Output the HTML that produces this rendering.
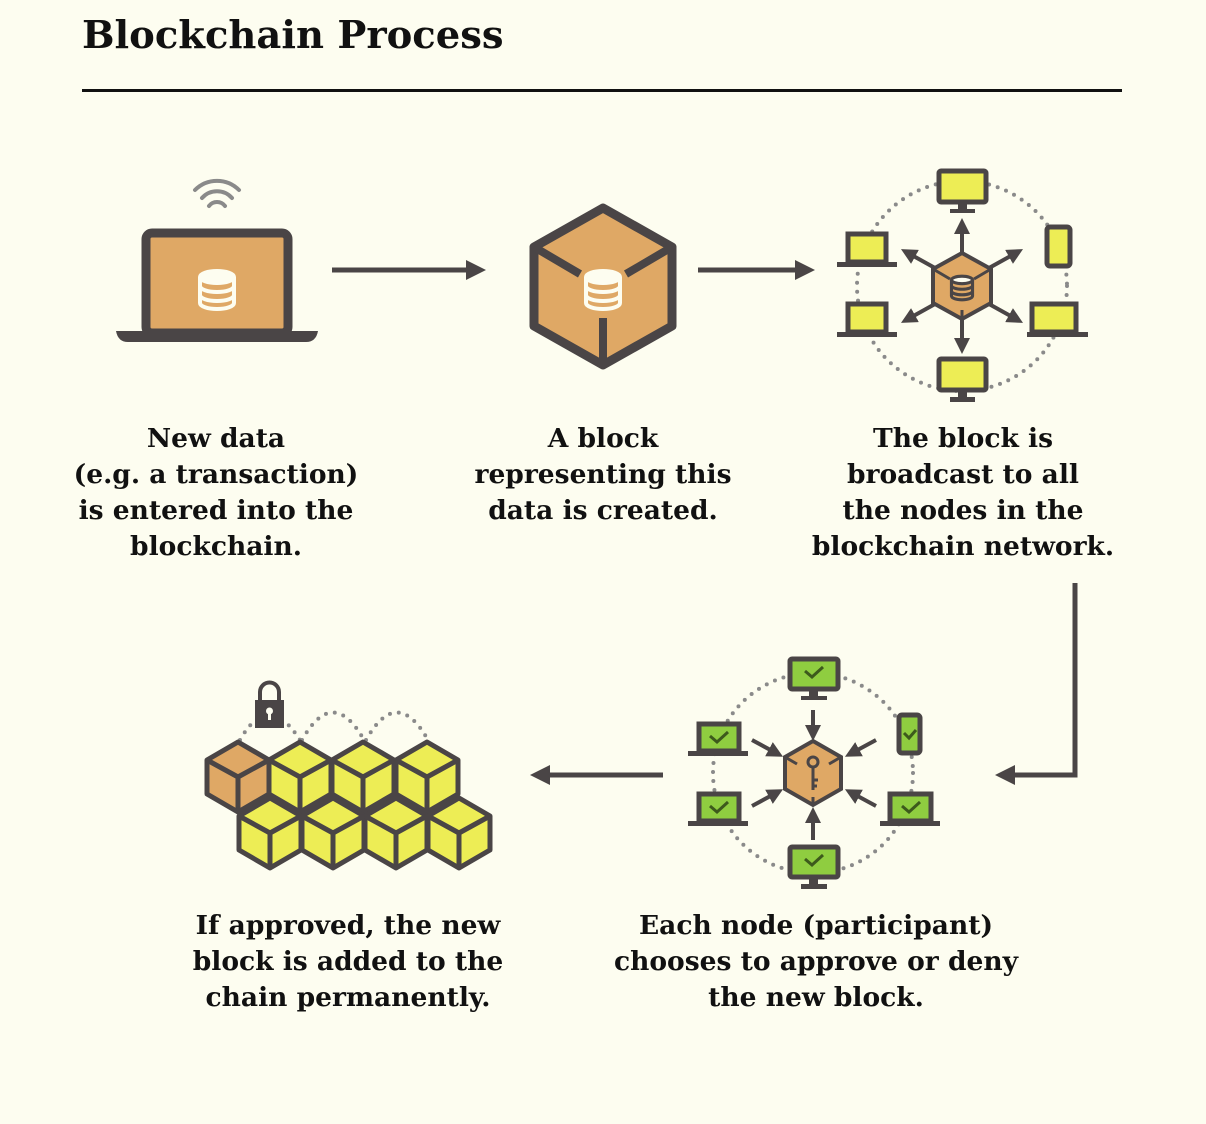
<!DOCTYPE html>
<html><head><meta charset="utf-8"><style>
html,body{margin:0;padding:0;background:#fdfdf0;}
body{width:1206px;height:1124px;position:relative;overflow:hidden;font-family:"DejaVu Serif","Liberation Serif",serif;color:#111;}
.t{position:absolute;font-weight:bold;font-size:26.5px;line-height:36px;text-align:center;white-space:nowrap;transform:translateX(-50%);}
</style></head><body>
<div style="position:absolute;left:82px;top:13px;font-size:38.5px;font-weight:bold;">Blockchain Process</div>
<div style="position:absolute;left:82px;top:89px;width:1040px;height:3px;background:#111;"></div>

<svg width="1206" height="1124" style="position:absolute;left:0;top:0" xmlns="http://www.w3.org/2000/svg">
<defs>
<marker id="ah" markerWidth="4" markerHeight="4" refX="2" refY="2" orient="auto" markerUnits="strokeWidth"><path d="M0,0 L4,2 L0,4 z" fill="#4a4546"/></marker>
<g id="db" fill="none" stroke="#fdfdf0" stroke-width="4">
<ellipse cx="0" cy="-13" rx="17" ry="6" fill="#fdfdf0"/>
<path d="M-17,-13 V13 A17,6 0 0 0 17,13 V-13"/>
<path d="M-17,-4 A17,6 0 0 0 17,-4 M-17,5 A17,6 0 0 0 17,5"/>
</g>
<g id="cube">
<path d="M0,0 L31,18 L31,52 L0,70 L-31,52 L-31,18 Z" fill="#eded55" stroke="#4a4546" stroke-width="5" stroke-linejoin="round"/>
<path d="M-31,18 L0,35 L31,18 M0,35 V70" fill="none" stroke="#4a4546" stroke-width="5" stroke-linejoin="round"/>
</g>
</defs>

<rect x="146" y="233" width="142" height="100" rx="6" fill="#dfa865" stroke="#4a4546" stroke-width="9"/>
<path d="M116,331 H318 Q316,342 306,342 H128 Q118,342 116,331 Z" fill="#4a4546"/>
<use href="#db" x="217" y="290"/>
<g fill="none" stroke="#8a8a8a" stroke-width="4" stroke-linecap="round">
<path d="M195,190 A31,31 0 0 1 239,190"/><path d="M202,198 A20,20 0 0 1 232,198"/><path d="M209,206 A10,10 0 0 1 225,206"/>
</g>

<line x1="332" y1="270" x2="476" y2="270" stroke="#4a4546" stroke-width="5" marker-end="url(#ah)"/>
<line x1="698" y1="270" x2="805" y2="270" stroke="#4a4546" stroke-width="5" marker-end="url(#ah)"/>

<path d="M603,208 L672,247 L672,326 L603,365 L534,326 L534,247 Z" fill="#dfa865" stroke="#4a4546" stroke-width="9" stroke-linejoin="round"/>
<path d="M534,247 L580,274 M672,247 L626,274 M603,318 V365" stroke="#4a4546" stroke-width="8" fill="none"/>
<use href="#db" x="603" y="290"/>

<circle cx="962" cy="286" r="105" fill="none" stroke="#8a8a8a" stroke-width="4" stroke-dasharray="0 9" stroke-linecap="round"/>
<g stroke="#4a4546" stroke-width="4" marker-end="url(#ah)">
<line x1="962" y1="252" x2="962" y2="226"/><line x1="962" y1="320" x2="962" y2="346"/>
<line x1="935" y1="268" x2="908" y2="253"/><line x1="989" y1="268" x2="1016" y2="253"/>
<line x1="935" y1="304" x2="908" y2="319"/><line x1="989" y1="304" x2="1016" y2="319"/>
</g>
<path d="M962,253 L991,269 L991,303 L962,319 L933,303 L933,269 Z" fill="#dfa865" stroke="#4a4546" stroke-width="4"/>
<path d="M933,269 L950,279 M991,269 L974,279 M962,310 V319" stroke="#4a4546" stroke-width="3"/>
<g transform="translate(962,288) scale(0.62)"><g fill="none" stroke="#4a4546" stroke-width="5"><ellipse cx="0" cy="-13" rx="17" ry="6" fill="#fdfdf0"/><path d="M-17,-13 V13 A17,6 0 0 0 17,13 V-13 M-17,-4 A17,6 0 0 0 17,-4 M-17,5 A17,6 0 0 0 17,5"/></g></g>
<g fill="#eded55" stroke="#4a4546" stroke-width="5">
<rect x="939" y="171" width="47" height="31" rx="2"/><rect x="939" y="359" width="47" height="31" rx="2"/>
<rect x="848" y="234" width="38" height="28"/><rect x="848" y="304" width="38" height="28"/>
<rect x="1032" y="304" width="44" height="28"/>
<rect x="1047" y="227" width="23" height="39" rx="3"/>
</g>
<g fill="#4a4546">
<rect x="958" y="202" width="9" height="8"/><rect x="950" y="209" width="25" height="4"/>
<rect x="958" y="390" width="9" height="8"/><rect x="950" y="397" width="25" height="5"/>
<rect x="837" y="262" width="60" height="5"/><rect x="837" y="332" width="60" height="5"/>
<rect x="1027" y="332" width="61" height="5"/>
</g>

<path d="M1075,583 V775 H1005" fill="none" stroke="#4a4546" stroke-width="5" marker-end="url(#ah)"/>
<line x1="663" y1="775" x2="540" y2="775" stroke="#4a4546" stroke-width="5" marker-end="url(#ah)"/>

<circle cx="813" cy="773" r="100" fill="none" stroke="#8a8a8a" stroke-width="4" stroke-dasharray="0 9" stroke-linecap="round"/>
<g stroke="#4a4546" stroke-width="4" marker-end="url(#ah)">
<line x1="813" y1="710" x2="813" y2="733"/><line x1="813" y1="840" x2="813" y2="815"/>
<line x1="752" y1="740" x2="776" y2="753"/><line x1="876" y1="740" x2="852" y2="753"/>
<line x1="752" y1="806" x2="776" y2="793"/><line x1="876" y1="806" x2="852" y2="793"/>
</g>
<path d="M813,741 L841,757 L841,789 L813,805 L785,789 L785,757 Z" fill="#dfa865" stroke="#4a4546" stroke-width="4"/>
<path d="M785,757 L797,764 M841,757 L829,764 M813,797 V805" stroke="#4a4546" stroke-width="3"/>
<circle cx="813" cy="762" r="5" fill="none" stroke="#4a4546" stroke-width="3"/>
<path d="M813,767 V790 M813,780 H818 M813,786 H817" stroke="#4a4546" stroke-width="3"/>
<g fill="#8fcd40" stroke="#4a4546" stroke-width="5">
<rect x="790" y="659" width="48" height="30" rx="2"/><rect x="790" y="847" width="48" height="30" rx="2"/>
<rect x="699" y="724" width="40" height="27"/><rect x="699" y="794" width="40" height="27"/>
<rect x="890" y="794" width="41" height="27"/>
<rect x="899" y="715" width="21" height="38" rx="3"/>
</g>
<g fill="#4a4546">
<rect x="809" y="689" width="9" height="8"/><rect x="801" y="696" width="26" height="4"/>
<rect x="809" y="877" width="9" height="8"/><rect x="801" y="884" width="26" height="5"/>
<rect x="688" y="751" width="60" height="5"/><rect x="688" y="821" width="60" height="5"/>
<rect x="880" y="821" width="60" height="5"/>
</g>
<g fill="none" stroke="#3d5a1c" stroke-width="3">
<path d="M805,671 l7,6 l11,-10"/><path d="M805,859 l7,6 l11,-10"/>
<path d="M710,736 l7,6 l11,-10"/><path d="M710,806 l7,6 l11,-10"/>
<path d="M902,806 l7,6 l11,-10"/><path d="M904,733 l5,5 l7,-8"/>
</g>

<g fill="none" stroke="#8a8a8a" stroke-width="4" stroke-dasharray="0 9" stroke-linecap="round">
<path d="M240,740 Q268,690 300,740"/><path d="M302,740 Q333,685 364,740"/><path d="M366,740 Q397,685 428,740"/>
</g>
<rect x="255" y="700" width="29" height="28" fill="#4a4546"/>
<path d="M260,700 V692 A9.5,9.5 0 0 1 279,692 V700" fill="none" stroke="#4a4546" stroke-width="4"/>
<circle cx="269.5" cy="711" r="3.5" fill="#fdfdf0"/><rect x="268" y="711" width="3" height="9" fill="#fdfdf0"/>
<use href="#cube" x="427" y="742"/>
<use href="#cube" x="363" y="742"/>
<use href="#cube" x="300" y="742"/>
<g>
<path d="M238,742 L269,760 L269,794 L238,812 L207,794 L207,760 Z" fill="#dfa865" stroke="#4a4546" stroke-width="5" stroke-linejoin="round"/>
<path d="M207,760 L238,777 L269,760 M238,777 V812" fill="none" stroke="#4a4546" stroke-width="5"/>
</g>
<use href="#cube" x="270" y="798"/>
<use href="#cube" x="333" y="798"/>
<use href="#cube" x="396" y="798"/>
<use href="#cube" x="459" y="798"/>
</svg>

<div class="t" style="left:216px;top:421px;">New data<br>(e.g. a transaction)<br>is entered into the<br>blockchain.</div>
<div class="t" style="left:603px;top:421px;">A block<br>representing this<br>data is created.</div>
<div class="t" style="left:963px;top:421px;">The block is<br>broadcast to all<br>the nodes in the<br>blockchain network.</div>
<div class="t" style="left:348px;top:908px;">If approved, the new<br>block is added to the<br>chain permanently.</div>
<div class="t" style="left:816px;top:908px;">Each node (participant)<br>chooses to approve or deny<br>the new block.</div>
</body></html>
